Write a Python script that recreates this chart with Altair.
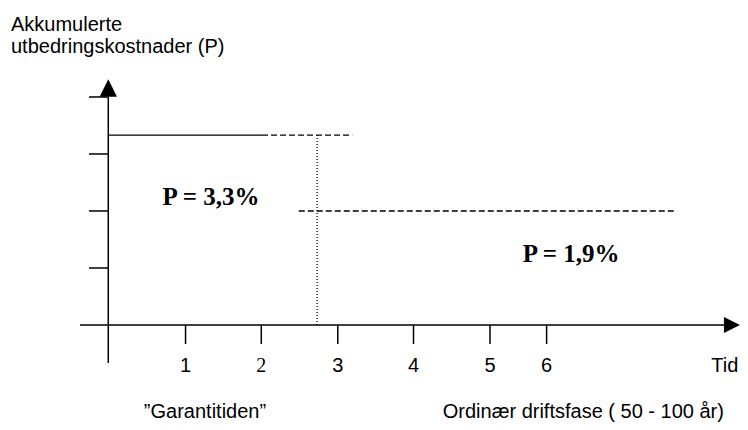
import altair as alt
import pandas as pd

# ---- data (x in "Tid" units, y in cost-level units) ----
x_tick_pos = [1.01, 2.0, 3.0, 3.99, 4.99, 5.73]
x_tick_text = ["1", "2", "3", "4", "5", "6"]
y_tick_pos = [1, 2, 3, 4]

p_guarantee = 3.33        # level of "P = 3,3%"
p_operation = 2.0         # level of "P = 1,9%"
guarantee_solid = [0.0, 2.01]
guarantee_dashed = [2.01, 3.19]
transition_x = 2.73
operation_dashed = [2.49, 7.43]

labels_bold = ["P = 3,3%", "P = 1,9%"]
labels_bold_x = [1.343, 6.05]
labels_bold_y = [2.105, 1.105]

title_lines = ["Akkumulerte", "utbedringskostnader (P)"]
phase_labels = ["\u201dGarantitiden\u201d", "Ordinær driftsfase ( 50 - 100 år)"]
phase_x = [1.264, 6.21]

X_DOM = [-1.311, 8.258]
Y_DOM = [-1.702, 5.561]

xs = alt.Scale(domain=X_DOM, nice=False, zero=False)
ys = alt.Scale(domain=Y_DOM, nice=False, zero=False)

def X(f="x"):
    return alt.X(f"{f}:Q", scale=xs, axis=None)

def Y(f="y"):
    return alt.Y(f"{f}:Q", scale=ys, axis=None)

# axes lines
axes_df = pd.DataFrame({
    "x": [-0.37, 0.0],
    "x2": [8.1, 0.0],
    "y": [0.0, -0.667],
    "y2": [0.0, 4.05],
})
axes = alt.Chart(axes_df).mark_rule(color="black", strokeWidth=1.5).encode(
    x=X(), x2="x2:Q", y=Y(), y2="y2:Q")

ytick_df = pd.DataFrame({"y": y_tick_pos, "x": [-0.252] * 4, "x2": [0.0] * 4})
yticks = alt.Chart(ytick_df).mark_rule(color="black", strokeWidth=1.5).encode(
    x=X(), x2="x2:Q", y=Y())

xtick_df = pd.DataFrame({"x": x_tick_pos, "y": [0.0] * 6, "y2": [-0.333] * 6})
xticks = alt.Chart(xtick_df).mark_rule(color="black", strokeWidth=1.5).encode(
    x=X(), y=Y(), y2="y2:Q")

# arrow heads
up_df = pd.DataFrame({"x": [0.0], "y": [4.158]})
arrow_up = alt.Chart(up_df).mark_point(
    shape="M0,-1L1,1L-1,1Z", filled=True, size=300, color="black", opacity=1, strokeWidth=0
).encode(x=X(), y=Y())
right_df = pd.DataFrame({"x": [8.153], "y": [0.0]})
arrow_right = alt.Chart(right_df).mark_point(
    shape="M-1,-1L1,0L-1,1Z", filled=True, size=256, color="black", opacity=1, strokeWidth=0
).encode(x=X(), y=Y())

# level lines
solid_df = pd.DataFrame({"x": [guarantee_solid[0]], "x2": [guarantee_solid[1]], "y": [p_guarantee]})
solid = alt.Chart(solid_df).mark_rule(color="black", strokeWidth=1.4).encode(
    x=X(), x2="x2:Q", y=Y())

dash_df = pd.DataFrame({
    "x": [guarantee_dashed[0], operation_dashed[0]],
    "x2": [guarantee_dashed[1], operation_dashed[1]],
    "y": [p_guarantee, p_operation],
})
dashed = alt.Chart(dash_df).mark_rule(color="black", strokeWidth=1.4, strokeDash=[6, 3]).encode(
    x=X(), x2="x2:Q", y=Y())

dot_df = pd.DataFrame({"x": [transition_x], "y": [0.0], "y2": [p_guarantee]})
dotted = alt.Chart(dot_df).mark_rule(color="black", strokeWidth=1.3, strokeDash=[1, 2]).encode(
    x=X(), y=Y(), y2="y2:Q")

# texts
bold_df = pd.DataFrame({"t": labels_bold, "x": labels_bold_x, "y": labels_bold_y})
bold = alt.Chart(bold_df).mark_text(
    font="Liberation Serif", fontSize=25, fontWeight="bold", color="black",
    align="center", baseline="alphabetic"
).encode(x=X(), y=Y(), text="t:N")

tl_df = pd.DataFrame({"t": x_tick_text, "x": x_tick_pos, "y": [-0.825] * 6})
tl_sans = alt.Chart(tl_df[tl_df.t != "2"]).mark_text(
    font="Liberation Sans", fontSize=20, color="black", align="center", baseline="alphabetic"
).encode(x=X(), y=Y(), text="t:N")
tl_serif = alt.Chart(tl_df[tl_df.t == "2"]).mark_text(
    font="Liberation Serif", fontSize=20, color="black", align="center", baseline="alphabetic"
).encode(x=X(), y=Y(), text="t:N")

tid_df = pd.DataFrame({"t": ["Tid"], "x": [8.06], "y": [-0.825]})
tid = alt.Chart(tid_df).mark_text(
    font="Liberation Sans", fontSize=20, color="black", align="center", baseline="alphabetic"
).encode(x=X(), y=Y(), text="t:N")

title_df = pd.DataFrame({"t": title_lines, "x": [-1.272, -1.272], "y": [5.15, 4.765]})
title = alt.Chart(title_df).mark_text(
    font="Liberation Sans", fontSize=20, color="black", align="left", baseline="alphabetic"
).encode(x=X(), y=Y(), text="t:N")

phase_df = pd.DataFrame({"t": phase_labels, "x": phase_x, "y": [-1.632, -1.632]})
phase = alt.Chart(phase_df).mark_text(
    font="Liberation Sans", fontSize=20, color="black", align="center", baseline="alphabetic"
).encode(x=X(), y=Y(), text="t:N")

chart = alt.layer(
    axes, yticks, xticks, arrow_up, arrow_right, solid, dashed, dotted,
    bold, tl_sans, tl_serif, tid, title, phase
).properties(
    width=732, height=414,
    autosize=alt.AutoSizeParams(type="none"),
    padding=0,
    background="white",
).configure_view(strokeWidth=0, stroke="transparent")

chart.save("out.html", embed_options={"renderer": "svg", "actions": False})
